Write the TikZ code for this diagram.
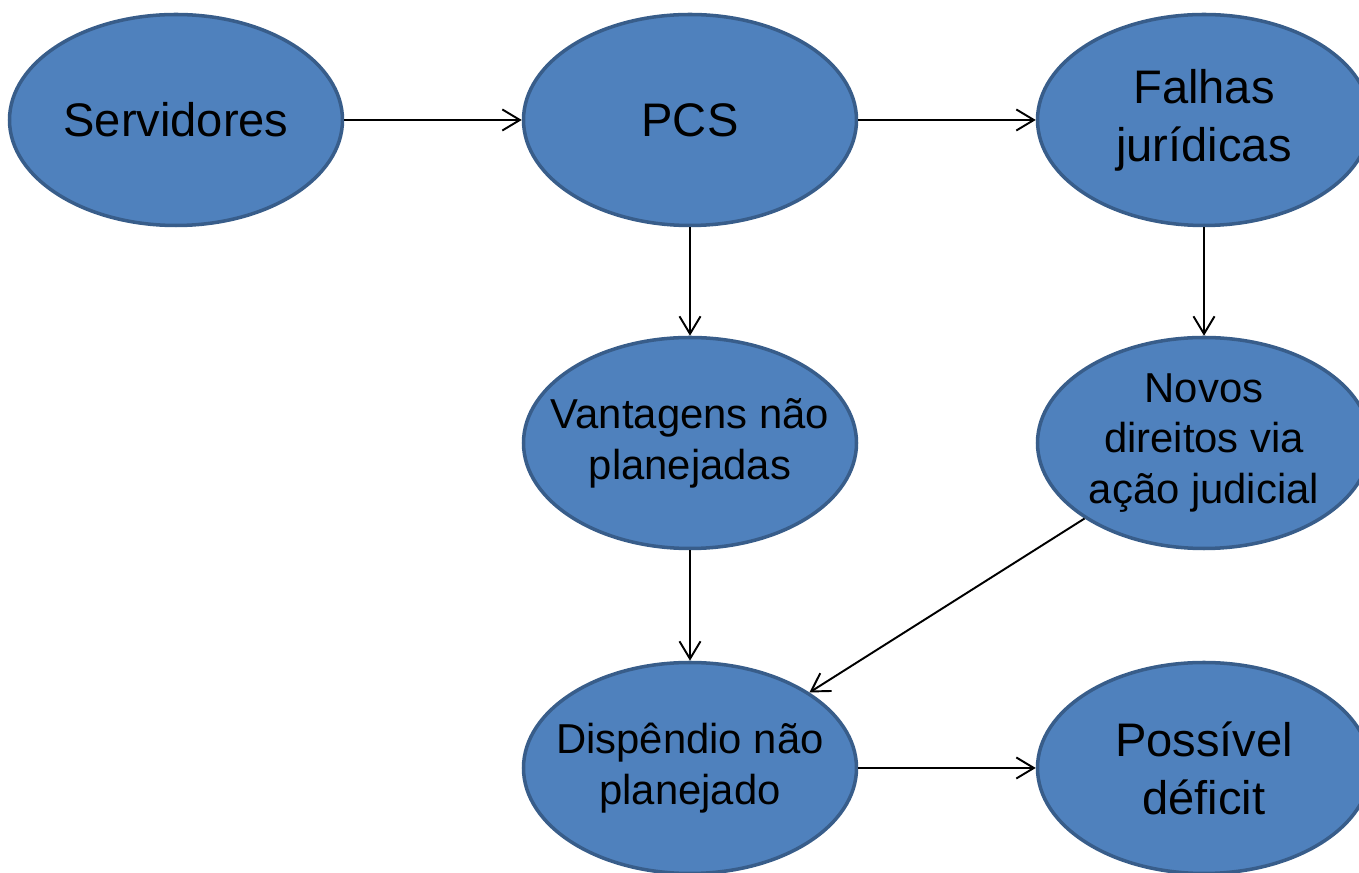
\documentclass[tikz,border=0pt]{standalone}
\usepackage{fontspec}
\setmainfont{Liberation Sans}
\usepackage{xcolor}
\usepackage{tikz}
\usetikzlibrary{shapes.geometric, arrows.meta, positioning}

\definecolor{blobfill}{HTML}{4F81BD}
\definecolor{blobline}{HTML}{385D8A}

\begin{document}
\begin{tikzpicture}[
    % Ellipses
    blob/.style={ellipse, draw=blobline, fill=blobfill, line width=2pt, minimum width=6.66cm, minimum height=4.22cm, inner sep=-1.5cm, align=center},
    bigtext/.style={blob, font=\fontsize{26.8}{32.9}\selectfont},
    smalltext/.style={blob, font=\fontsize{23.8}{28.9}\selectfont},
    % Connectors
    link/.style={-{Straight Barb[length=10pt,width=12pt]}, line width=1.1pt, black}
]
    \useasboundingbox (0,0) rectangle (27.18,17.46);

    % Top row
    \node[bigtext] (servidores) at (3.52, 15.06) {Servidores};
    \node[bigtext] (pcs) at (13.80, 15.06) {PCS};
    \node[bigtext] (falhas) at (24.08, 15.06) {Falhas\\jurídicas};

    % Middle row
    \node[smalltext] (vantagens) at (13.80, 8.60) {Vantagens não\\planejadas};
    \node[smalltext] (novos) at (24.08, 8.60) {Novos\\direitos via\\ação judicial};

    % Bottom row
    \node[smalltext] (dispendio) at (13.80, 2.10) {Dispêndio não\\planejado};
    \node[bigtext] (deficit) at (24.08, 2.10) {Possível\\déficit};

    % Arrows
    \draw[link] (servidores) -- (pcs);
    \draw[link] (pcs) -- (falhas);
    \draw[link] (pcs) -- (vantagens);
    \draw[link] (falhas) -- (novos);
    \draw[link] (vantagens) -- (dispendio);
    \draw[link] (novos) -- (dispendio);
    \draw[link] (dispendio) -- (deficit);
\end{tikzpicture}
\end{document}
